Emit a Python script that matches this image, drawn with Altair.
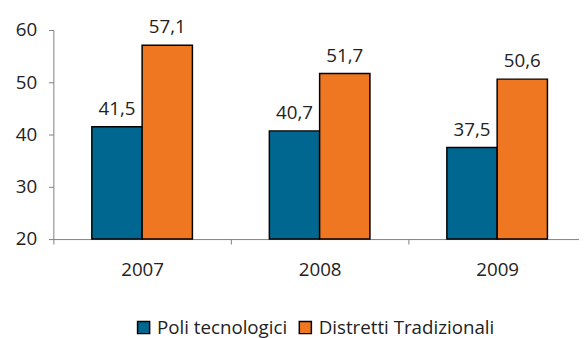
import altair as alt
import pandas as pd

years = ["2007", "2008", "2009"]
series = ["Poli tecnologici", "Distretti Tradizionali"]
poli = [41.5, 40.7, 37.5]
distretti = [57.1, 51.7, 50.6]
colors = ["#006890", "#F07722"]
y_ticks = [20, 30, 40, 50, 60]

rows = []
for i, yr in enumerate(years):
    for s, vals in zip(series, [poli, distretti]):
        v = vals[i]
        rows.append({"year": yr, "series": s, "value": v,
                     "label": f"{v:.1f}".replace(".", ",")})
df = pd.DataFrame(rows)

FONT = "Open Sans"
FS = 19

x = alt.X("year:N", sort=years,
          scale=alt.Scale(paddingInner=0, paddingOuter=0, range=[0, 540]),
          axis=alt.Axis(title=None, tickBand="extent", labelAngle=0,
                        tickSize=5, labelPadding=17, domainColor="#808080",
                        tickColor="#808080", labelColor="#222222",
                        labelFont=FONT, labelFontSize=FS))
xo = alt.XOffset("series:N", sort=series,
                 scale=alt.Scale(paddingInner=0, paddingOuter=0.765))
y = alt.Y("value:Q",
          scale=alt.Scale(domain=[20, 60], zero=False, nice=False),
          axis=alt.Axis(title=None, values=y_ticks, grid=False, tickSize=5,
                        labelPadding=12, domainColor="#808080", tickColor="#808080",
                        labelColor="#222222", labelFont=FONT, labelFontSize=FS))

bars = alt.Chart(df).mark_bar(stroke="black", strokeWidth=1.5).encode(
    x=x, xOffset=xo, y=y, y2=alt.datum(20),
    color=alt.Color("series:N", sort=series,
                    scale=alt.Scale(domain=series, range=colors),
                    legend=alt.Legend(title=None, orient="none", direction="horizontal",
                                      legendX=82, legendY=292,
                                      symbolType="square", symbolSize=150,
                                      symbolStrokeColor="black", symbolStrokeWidth=1.5,
                                      labelFont=FONT, labelFontSize=FS, labelLimit=0,
                                      labelColor="#222222", columnPadding=8,
                                      labelOffset=4)),
)

text = alt.Chart(df).mark_text(baseline="alphabetic", dy=-12, font=FONT,
                               fontSize=FS, color="#222222").encode(
    x=x, xOffset=xo, y=y, text="label:N")

chart = alt.layer(bars, text).properties(
    width=533, height=212,
    autosize=alt.AutoSizeParams(type="none"),
    padding={"left": 46, "top": 20, "right": 0, "bottom": 98},
).configure_view(stroke=None)

chart.save("out.html", embed_options={"renderer": "svg", "actions": False})
